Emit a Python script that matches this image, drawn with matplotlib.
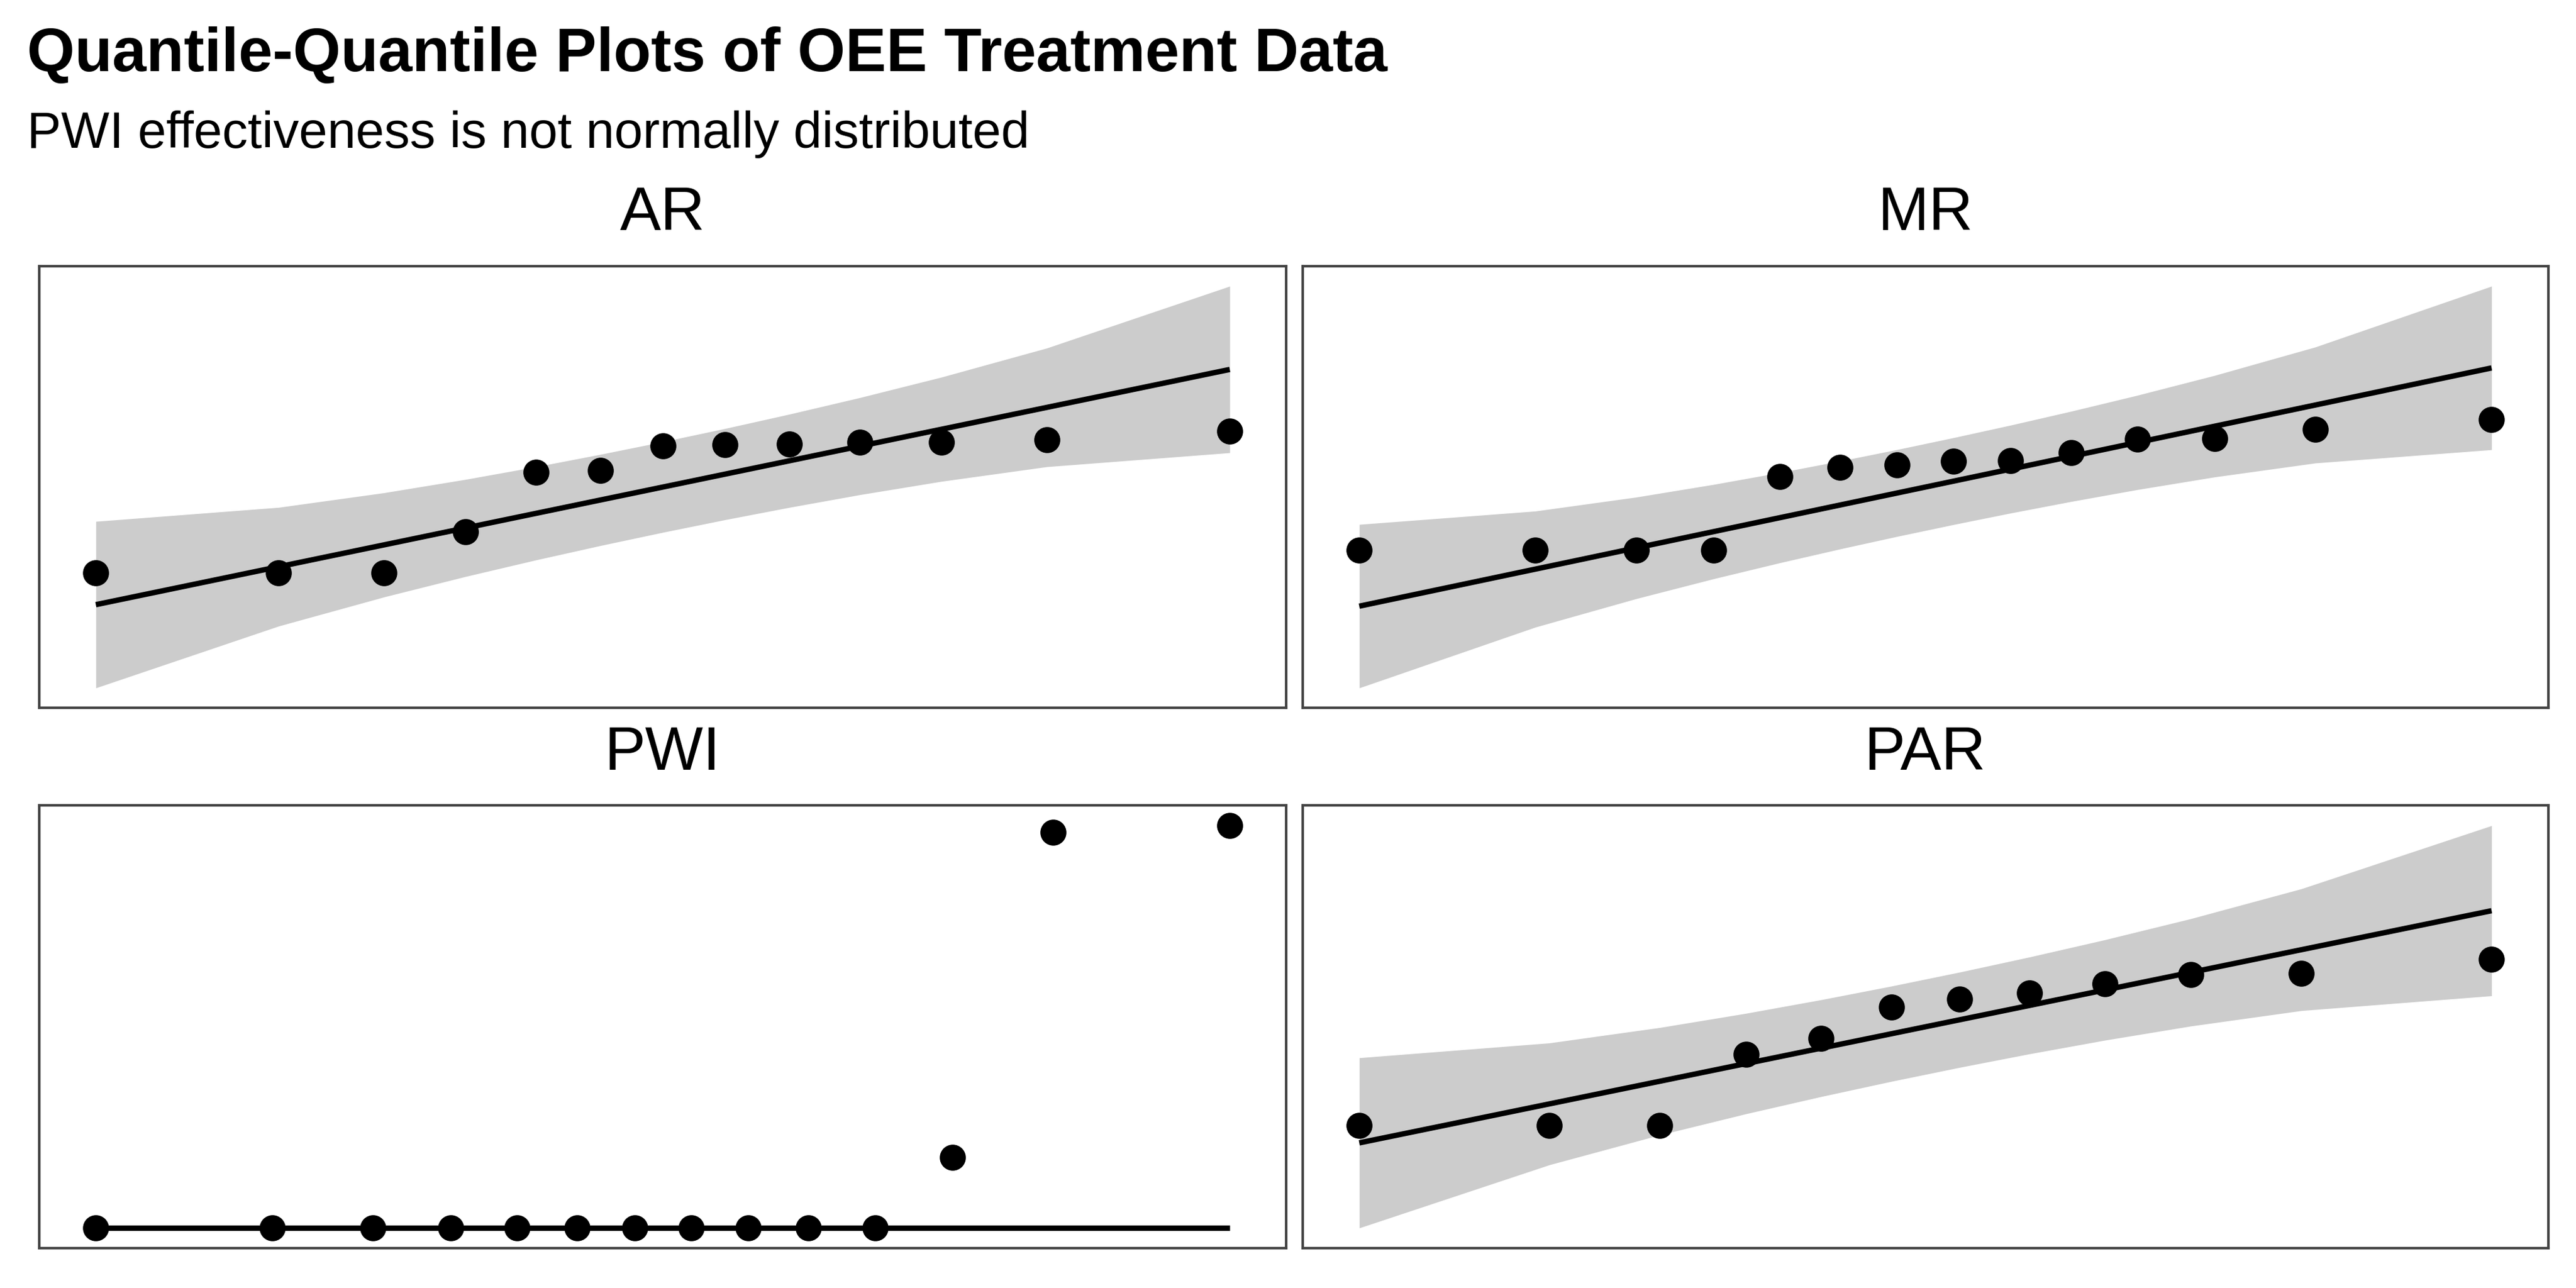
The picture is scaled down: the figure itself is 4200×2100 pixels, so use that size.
import numpy as np
import matplotlib
matplotlib.use("Agg")
import matplotlib.pyplot as plt
from statistics import NormalDist

# effectiveness values (arbitrary units, y scale is free per panel)
treatments = ["AR", "MR", "PWI", "PAR"]
ar_vals = [40.0, 40.0, 40.0, 50.2, 65.1, 65.5, 71.6, 71.9, 72.1, 72.5, 72.5, 73.1, 75.3]
mr_vals = [45.0, 45.0, 45.0, 45.0, 63.3, 65.6, 66.2, 67.1, 67.3, 69.3, 72.6, 72.7, 75.1, 77.5]
pwi_vals = [0, 0, 0, 0, 0, 0, 0, 0, 0, 0, 0, 17.5, 98.4, 100.0]
par_vals = [50.0, 50.0, 50.0, 67.6, 71.5, 79.2, 81.2, 82.7, 84.9, 87.1, 87.4, 90.9]

data = {"AR": ar_vals, "MR": mr_vals, "PWI": pwi_vals, "PAR": par_vals}

nd = NormalDist()
plt.rcParams['font.family'] = ['Liberation Sans', 'DejaVu Sans']


def ppoints(n):
    a = 3 / 8 if n <= 10 else 0.5
    return (np.arange(1, n + 1) - a) / (n + 1 - 2 * a)


def qq_parts(vals, conf=0.95):
    # qq points, quartile line and pointwise normal band
    smp = np.sort(np.asarray(vals, dtype=float))
    n = len(smp)
    probs = ppoints(n)
    theo = np.array([nd.inv_cdf(p) for p in probs])
    yq = np.quantile(smp, [0.25, 0.75])
    xq = np.array([nd.inv_cdf(0.25), nd.inv_cdf(0.75)])
    slope = (yq[1] - yq[0]) / (xq[1] - xq[0])
    inter = yq[0] - slope * xq[0]
    fit = inter + slope * theo
    zz = nd.inv_cdf(1 - (1 - conf) / 2)
    dens = np.array([nd.pdf(t) for t in theo])
    se = (slope / dens) * np.sqrt(probs * (1 - probs) / n)
    return theo, smp, fit, fit - zz * se, fit + zz * se


fig = plt.figure(figsize=(14, 7), dpi=300)

# panel boxes [left, bottom, width, height] in figure fractions
boxes = {
    "AR": [0.0152, 0.4503, 0.4842, 0.3431],
    "MR": [0.5057, 0.4503, 0.4835, 0.3431],
    "PWI": [0.0152, 0.0310, 0.4842, 0.3436],
    "PAR": [0.5057, 0.0310, 0.4835, 0.3436],
}

for name in treatments:
    ax = fig.add_axes(boxes[name])
    theo, smp, fit, lo, hi = qq_parts(data[name])
    ax.fill_between(theo, lo, hi, color="#cccccc", lw=0, zorder=1)
    ax.plot([theo[0], theo[-1]], [fit[0], fit[-1]], color="black", lw=2.1, zorder=2,
            solid_capstyle="butt")
    ax.plot(theo, smp, "o", color="black", ms=9.2, zorder=3)

    xr = theo[-1] - theo[0]
    ax.set_xlim(theo[0] - 0.05 * xr, theo[-1] + 0.05 * xr)
    ymin = min(smp.min(), lo.min(), fit.min())
    ymax = max(smp.max(), hi.max(), fit.max())
    yr = ymax - ymin
    ax.set_ylim(ymin - 0.05 * yr, ymax + 0.05 * yr)

    ax.set_xticks([])
    ax.set_yticks([])
    for sp in ax.spines.values():
        sp.set_color("#444444")
        sp.set_linewidth(1.0)

    b = boxes[name]
    fig.text(b[0] + b[2] / 2, b[1] + b[3] + 0.028, name, ha="center", va="baseline",
             fontsize=24)

fig.text(0.0105, 0.945, "Quantile-Quantile Plots of OEE Treatment Data",
         fontsize=24, fontweight="bold", ha="left", va="baseline")
fig.text(0.0105, 0.885, "PWI effectiveness is not normally distributed",
         fontsize=20, ha="left", va="baseline")

fig.savefig("out.png", dpi=300, facecolor="white")
